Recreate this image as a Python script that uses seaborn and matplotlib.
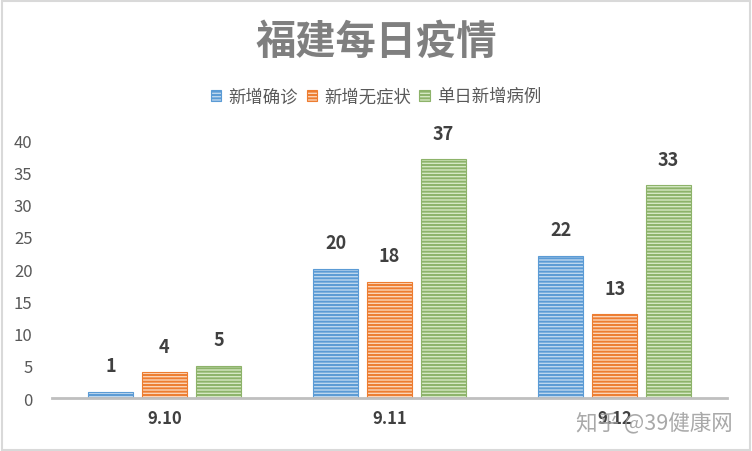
import matplotlib
matplotlib.use("Agg")
import matplotlib.pyplot as plt
import seaborn as sns
import pandas as pd
from matplotlib.patches import Rectangle

dates = ["9.10", "9.11", "9.12"]
series_names = ["新增确诊", "新增无症状", "单日新增病例"]
confirmed = [1, 20, 22]
asymptomatic = [4, 18, 13]
daily_total = [5, 37, 33]
y_ticks = [0, 5, 10, 15, 20, 25, 30, 35, 40]

rows = []
for name, vals in zip(series_names, [confirmed, asymptomatic, daily_total]):
    for d, v in zip(dates, vals):
        rows.append({"date": d, "series": name, "value": v})
df = pd.DataFrame(rows)

sns.set_theme(style="white")
plt.rcParams['font.family'] = ['Noto Sans CJK SC', 'DejaVu Sans']
plt.rcParams['hatch.linewidth'] = 1.4

stripe = ["#5B9BD5", "#ED7D31", "#8DB36A"]
face = ["#BDD7EE", "#FBD5B9", "#D5E8C4"]

fig = plt.figure(figsize=(7.52, 4.52), dpi=100)
ax = fig.add_axes([0.069, 0.117, 0.898, 0.571])

sns.barplot(data=df, x="date", y="value", hue="series", hue_order=series_names,
            order=dates, palette=stripe, width=0.72, gap=0.17, ax=ax,
            legend=False, errorbar=None)

for i, cont in enumerate(ax.containers):
    for p in cont:
        p.set_facecolor(face[i])
        p.set_edgecolor(stripe[i])
        p.set_hatch("-----")
        p.set_linewidth(0.8)
    ax.bar_label(cont, padding=12, fontsize=13, fontweight="bold", color="#404040")

ax.set_ylim(0, 40)
ax.set_xlim(-0.5, 2.5)
ax.set_yticks(y_ticks)
ax.set_yticklabels([str(t) for t in y_ticks], fontsize=12, color="#595959")
ax.tick_params(axis="y", length=0, pad=14)
ax.tick_params(axis="x", length=0, pad=8)
for lab in ax.get_xticklabels():
    lab.set_fontweight("bold")
    lab.set_fontsize(12)
    lab.set_color("#404040")
ax.set_xlabel("")
ax.set_ylabel("")
for s in ["top", "right", "left"]:
    ax.spines[s].set_visible(False)
ax.spines["bottom"].set_color("#BFBFBF")
ax.spines["bottom"].set_linewidth(2)

fig.text(0.5, 0.905, "福建每日疫情", ha="center", va="center", fontsize=29,
         fontweight="bold", color="#7F7F7F")

# legend
handles = [Rectangle((0, 0), 1, 1, facecolor=face[i], edgecolor=stripe[i],
                     hatch="-----", linewidth=0.8) for i in range(3)]
fig.legend(handles, series_names, loc="center", bbox_to_anchor=(0.5, 0.785),
           ncol=3, frameon=False, fontsize=12.5, handlelength=0.6, handleheight=0.6,
           handletextpad=0.4, columnspacing=0.5, labelcolor="#595959")

fig.text(0.975, 0.063, "知乎 @39健康网", ha="right", va="center", fontsize=15.5,
         color="#9A9A9A", alpha=0.85)

fig.patches.append(Rectangle((0.002, 0.003), 0.995, 0.993, transform=fig.transFigure,
                             fill=False, edgecolor="#D9D9D9", linewidth=1.5))

fig.savefig("out.png", dpi=100)
